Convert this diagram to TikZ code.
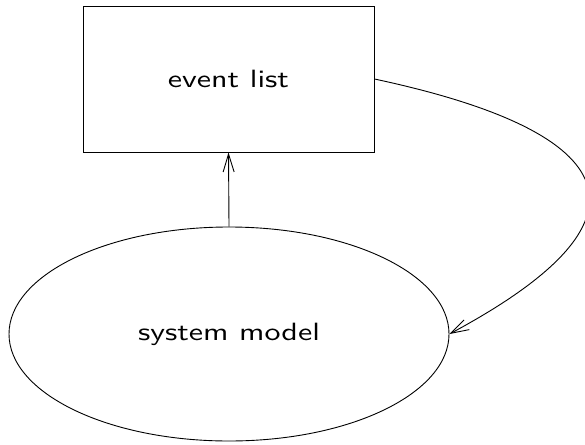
\documentclass[tikz,border=0pt]{standalone}
\usepackage{graphicx}
\usetikzlibrary{arrows.meta,shapes.geometric}
\newcommand{\lbltext}[1]{\scalebox{3.2}[2.5]{\sffamily\fontsize{10}{12}\selectfont #1}}
\begin{document}
\begin{tikzpicture}[x=1pt,y=-1pt,
  conn/.style={line width=0.9pt,-{Straight Barb[length=18pt,width=11pt,line width=0.9pt]}},
  box/.style={draw,line width=0.9pt,rectangle,minimum width=291pt,minimum height=146pt,inner sep=0pt},
  oval/.style={draw,line width=0.9pt,ellipse,minimum width=440pt,minimum height=214pt,inner sep=0pt}]
\useasboundingbox (0,0) rectangle (585,444);
\node[box] (event) at (228.5,79) {\lbltext{event list}};
\node[oval] (system) at (229,334) {\lbltext{system model}};
\draw[conn] (system.north) -- (event.south);
\draw[conn] (event.east) .. controls (590,125) and (690,205) .. (system.east);
\end{tikzpicture}
\end{document}
